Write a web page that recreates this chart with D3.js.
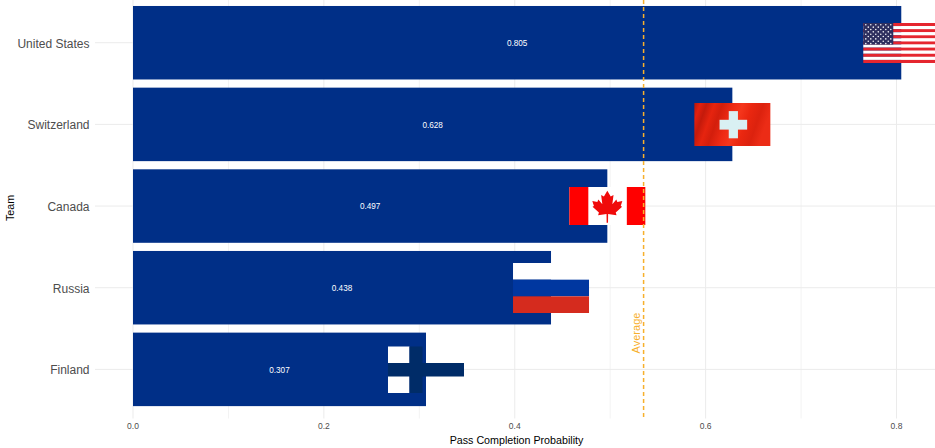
<!DOCTYPE html>
<html>
<head>
<meta charset="utf-8">
<script src="https://cdnjs.cloudflare.com/ajax/libs/d3/7.8.5/d3.min.js"></script>
<style>
  html, body { margin: 0; padding: 0; background: #fff; }
  svg { display: block; font-family: "Liberation Sans", Arial, sans-serif; }
</style>
</head>
<body>
<svg id="chart" width="935" height="448"></svg>
<script>
const teams = ["United States", "Switzerland", "Canada", "Russia", "Finland"];
const completion = [0.805, 0.628, 0.497, 0.438, 0.307];
const xTicks = [0, 0.2, 0.4, 0.6, 0.8];
const xMinor = [0.1, 0.3, 0.5, 0.7];
const barColor = "#002F87";
const averageColor = "#F7B02C";

const width = 935, height = 448;
const svg = d3.select("#chart");
const panel = { left: 95, right: 935, top: 0, bottom: 418.5 };

const x = d3.scaleLinear().domain([0, 0.8]).range([133, 896.5]);
const y = d3.scaleBand().domain(teams).range([1.9, 410.2]).paddingInner(0.1).paddingOuter(0.05);
const mid = t => y(t) + y.bandwidth() / 2;
const average = d3.mean(completion);

// Grid
const grid = svg.append("g");
grid.selectAll(".major").data(xTicks).join("line")
  .attr("x1", d => x(d)).attr("x2", d => x(d))
  .attr("y1", panel.top).attr("y2", panel.bottom)
  .attr("stroke", "#ebebeb").attr("stroke-width", 1);
grid.selectAll(".minor").data(xMinor).join("line")
  .attr("x1", d => x(d)).attr("x2", d => x(d))
  .attr("y1", panel.top).attr("y2", panel.bottom)
  .attr("stroke", "#f3f3f3").attr("stroke-width", 1);
grid.selectAll(".cat").data(teams).join("line")
  .attr("x1", panel.left).attr("x2", panel.right)
  .attr("y1", mid).attr("y2", mid)
  .attr("stroke", "#ebebeb").attr("stroke-width", 1);

// Bars
svg.append("g").selectAll("rect").data(teams).join("rect")
  .attr("x", x(0))
  .attr("y", d => y(d))
  .attr("width", (d, i) => x(completion[i]) - x(0))
  .attr("height", y.bandwidth())
  .attr("fill", barColor);

// Value labels at half-length
svg.append("g").selectAll("text").data(teams).join("text")
  .attr("x", (d, i) => x(completion[i] / 2))
  .attr("y", d => mid(d) + 0.5)
  .attr("dy", "0.35em")
  .attr("text-anchor", "middle")
  .attr("font-size", 8.2)
  .attr("fill", "#ffffff")
  .text((d, i) => completion[i].toFixed(3));

// Flags: each centred on the end of its bar
const defs = svg.append("defs");
defs.append("clipPath").attr("id", "plot-clip").append("rect")
  .attr("x", 0).attr("y", 0).attr("width", width).attr("height", height);
const wave = defs.append("linearGradient").attr("id", "swiss-wave")
  .attr("x1", "0%").attr("x2", "100%").attr("y1", "0%").attr("y2", "20%");
[[0, "#b5170a"], [0.08, "#e2200f"], [0.16, "#c41a0b"], [0.26, "#e6240f"], [0.36, "#d31e0c"],
 [0.5, "#ee2a14"], [0.62, "#f5361c"], [0.74, "#ea2710"], [0.88, "#dc220e"], [1, "#ec2c16"]]
  .forEach(s => wave.append("stop").attr("offset", s[0]).attr("stop-color", s[1]));

const flagW = 76;
const flags = svg.append("g").attr("clip-path", "url(#plot-clip)");
const rect = (g, a, b, w, h, fill) => g.append("rect")
  .attr("x", a).attr("y", b).attr("width", w).attr("height", h).attr("fill", fill);

function flagUS(g, h) {
  const stripe = h / 13;
  for (let i = 0; i < 13; i++) rect(g, 0, i * stripe, flagW, stripe, i % 2 ? "#ffffff" : "#E5262F");
  rect(g, 0, 0, 30, stripe * 7, "#2E2F5F");
  for (let row = 0; row < 9; row++) {
    const n = row % 2 ? 5 : 6;
    for (let c = 0; c < n; c++) {
      g.append("circle")
        .attr("cx", 2.5 + (row % 2 ? 2.5 : 0) + c * 5)
        .attr("cy", 1.8 + row * 2.35)
        .attr("r", 0.8).attr("fill", "#f2f2f6");
    }
  }
}
function flagCH(g, h) {
  rect(g, 0, 0, flagW, h, "url(#swiss-wave)");
  const cx = 39, cy = 21.7;
  rect(g, cx - 13.8, cy - 4.9, 27.6, 9.8, "#d9f0f3");
  rect(g, cx - 4.6, cy - 13.6, 9.2, 27.2, "#d9f0f3");
}
function flagCA(g, h) {
  rect(g, 0, 0, flagW, h, "#ffffff");
  rect(g, 0, 0, 19, h, "#FF0000");
  rect(g, 57.5, 0, 18.5, h, "#FF0000");
  g.append("path")
    .attr("transform", "translate(38,0)")
    .attr("fill", "#F00A0A")
    .attr("d", "M0,3.7 L3.4,9.6 L6.2,8 L5,17.2 L9,12.6 L10,15 L15,14 L13.4,19 L14.8,19.8 L8.4,25.6 L9.2,28.2 L0.8,27 L0.7,35.7 L-0.7,35.7 L-0.8,27 L-9.2,28.2 L-8.4,25.6 L-14.8,19.8 L-13.4,19 L-15,14 L-10,15 L-9,12.6 L-5,17.2 L-6.2,8 L-3.4,9.6 Z");
}
function flagRU(g, h) {
  rect(g, 0, 0, flagW, h / 3, "#ffffff");
  rect(g, 0, h / 3, flagW, h / 3, "#0037A0");
  rect(g, 0, 2 * h / 3, flagW, h / 3, "#D52B1E");
}
function flagFI(g, h) {
  // The white field is only present left of the upright; the rest is see-through
  rect(g, 0, 0, 21.5, h, "#ffffff");
  rect(g, 21.5, 0, 13, h, "#002C68");
  rect(g, 0, 16.5, flagW, 13.5, "#002C68");
}
const flagSpecs = [
  { team: "United States", h: 40, top: 23, draw: flagUS },
  { team: "Switzerland", h: 43, top: 103, draw: flagCH },
  { team: "Canada", h: 38, top: 187, draw: flagCA },
  { team: "Russia", h: 50, top: 263, draw: flagRU },
  { team: "Finland", h: 46.5, top: 346.5, draw: flagFI }
];
flagSpecs.forEach(f => {
  const v = completion[teams.indexOf(f.team)];
  const g = flags.append("g").attr("transform", `translate(${x(v) - flagW / 2},${f.top})`);
  f.draw(g, f.h);
});

// Average reference line and its label
svg.append("line")
  .attr("x1", x(average)).attr("x2", x(average))
  .attr("y1", panel.top).attr("y2", panel.bottom)
  .attr("stroke", averageColor).attr("stroke-width", 1.5)
  .attr("stroke-dasharray", "4,3");
svg.append("text")
  .attr("transform", `translate(${x(average) - 3.5},333) rotate(-90)`)
  .attr("text-anchor", "middle")
  .attr("font-size", 11)
  .attr("fill", averageColor)
  .text("Average");

// Axes
const xAxis = d3.axisBottom(x).tickValues(xTicks).tickSize(0).tickPadding(0).tickFormat(d3.format(".1f"));
const gx = svg.append("g").attr("transform", "translate(-0.5,423)").call(xAxis);
gx.select(".domain").remove();
gx.selectAll("text").attr("font-size", 8.5).attr("fill", "#4d4d4d").attr("font-family", "inherit");

const yAxis = d3.axisLeft(y).tickSize(0).tickPadding(0);
const gy = svg.append("g").attr("transform", "translate(89.5,1)").call(yAxis);
gy.select(".domain").remove();
gy.selectAll("text").attr("font-size", 12).attr("fill", "#4d4d4d").attr("font-family", "inherit");

svg.append("text")
  .attr("x", 516.5).attr("y", 444)
  .attr("text-anchor", "middle").attr("font-size", 10.7).attr("fill", "#000")
  .text("Pass Completion Probability");
svg.append("text")
  .attr("transform", "translate(14,208) rotate(-90)")
  .attr("text-anchor", "middle").attr("font-size", 10.7).attr("fill", "#000")
  .text("Team");
</script>
</body>
</html>
